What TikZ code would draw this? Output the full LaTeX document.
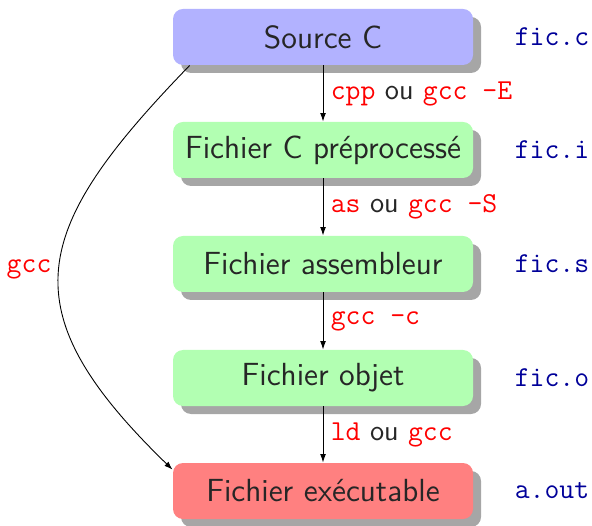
\documentclass[tikz,border=0pt]{standalone}
\usetikzlibrary{shadows,arrows.meta}
\newcommand{\cmdtt}[1]{\textcolor{red}{\texttt{#1}}}
\begin{document}
\begin{tikzpicture}[x=0.45pt,y=-0.45pt, every node/.style={font=\sffamily\Large,text=black!85},
  etape/.style={rounded corners=4.5pt,minimum width=135pt,minimum height=25.2pt,align=center,
    drop shadow={shadow xshift=3.6pt,shadow yshift=-3.6pt,fill=black!35,opacity=1}},
  fic/.style={font=\ttfamily\fontsize{13}{15}\selectfont,text=blue!60!black,anchor=west},
  lbl/.style={font=\sffamily\fontsize{13}{15}\selectfont,right},
  fl/.style={-{Latex[length=3.8pt,width=2.6pt]}}]
\useasboundingbox (0,0) rectangle (592,526);
\node[etape,fill=blue!30] (src) at (323,37) {Source C};
\node[etape,fill=green!30] (pre) at (323,150) {Fichier C préprocessé};
\node[etape,fill=green!30] (asm) at (323,264) {Fichier assembleur};
\node[etape,fill=green!30] (obj) at (323,378) {Fichier objet};
\node[etape,fill=red!50] (exe) at (323,491) {Fichier exécutable};
\node[fic] (fc) at (507,37) {fic.c};
\node[fic] (fi) at (507,150) {fic.i};
\node[fic] (fs) at (507,264) {fic.s};
\node[fic] (fo) at (507,378) {fic.o};
\node[fic] (fa) at (507,491) {a.out};
\draw[fl] (src) -- (pre) node[midway,lbl] {\cmdtt{cpp} ou \cmdtt{gcc -E}};
\draw[fl] (pre) -- (asm) node[midway,lbl] {\cmdtt{as} ou \cmdtt{gcc -S}};
\draw[fl] (asm) -- (obj) node[midway,lbl] {\cmdtt{gcc -c}};
\draw[fl] (obj) -- (exe) node[midway,lbl] {\cmdtt{ld} ou \cmdtt{gcc}};
% raccourci direct
\draw[fl] ([xshift=7.7pt]src.south west) .. controls +(-160,165) and +(-165,-160) .. ([yshift=-3.2pt]exe.north west)
  node[pos=0.5,left,font=\fontsize{13}{15}\selectfont] {\cmdtt{gcc}};
\end{tikzpicture}
\end{document}
